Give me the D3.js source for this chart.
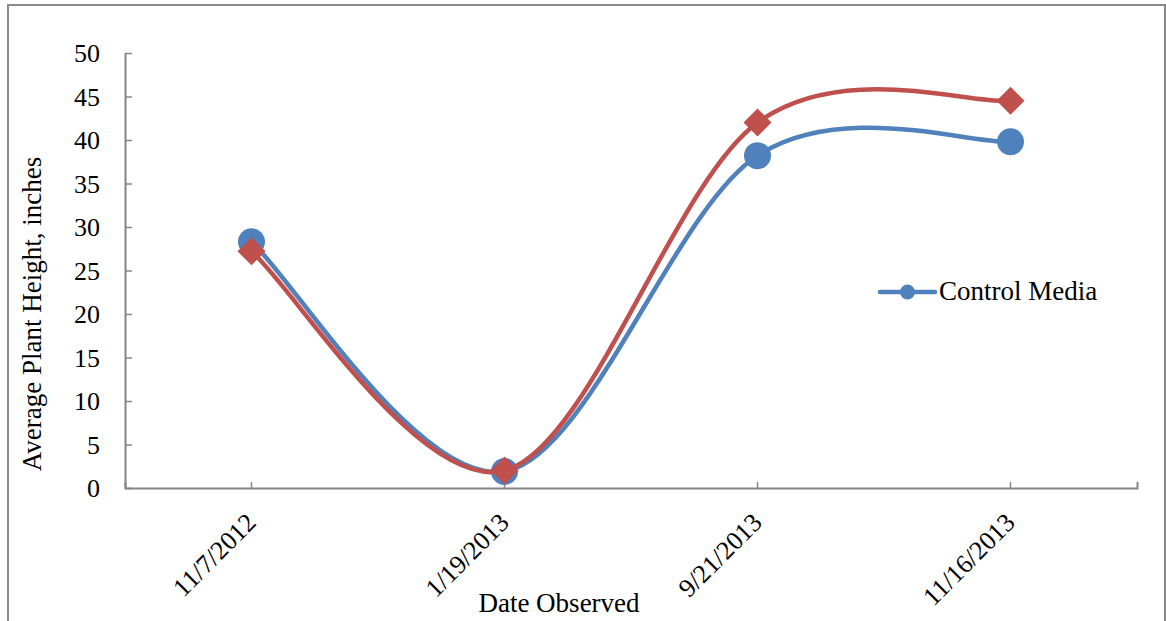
<!DOCTYPE html>
<html>
<head>
<meta charset="utf-8">
<script src="https://cdn.jsdelivr.net/npm/d3@7/dist/d3.min.js"></script>
<style>
  html, body { margin: 0; padding: 0; background: #ffffff; }
  svg { display: block; }
  svg text { font-family: "Liberation Serif", Tinos, "Times New Roman", Times, "DejaVu Serif", serif !important; fill: #000; }
</style>
</head>
<body>
<svg id="chart" width="1166" height="621"></svg>
<script>
// Observation dates (categories)
const dates = ["11/7/2012", "1/19/2013", "9/21/2013", "11/16/2013"];
// Average plant height, inches
const controlMedia = [28.3, 1.9, 38.2, 39.8];
const treatmentMedia = [27.2, 2.0, 42.0, 44.5];
// Value axis ticks
const yTicks = [0, 5, 10, 15, 20, 25, 30, 35, 40, 45, 50];

const svg = d3.select("#chart");
const plot = { left: 125, right: 1137, top: 53, bottom: 488 };
const axisColor = "#868686";
const blue = "#4f81bd", red = "#c0504d";
const serif = "'Liberation Serif', Tinos, 'Times New Roman', Times, 'DejaVu Serif', serif";

// Outer chart frame
svg.append("rect")
  .attr("x", 8).attr("y", 5)
  .attr("width", 1157).attr("height", 700)
  .attr("fill", "none").attr("stroke", "#8a8a8a").attr("stroke-width", 2);

const x = d3.scaleBand().domain(dates).range([plot.left, plot.right]).padding(0);
const y = d3.scaleLinear().domain([0, 50]).range([plot.bottom, plot.top]);
const cx = d => x(d) + x.bandwidth() / 2;

// Smooth line: cubic Bezier through each point, tangents from neighbouring points,
// end points act as their own neighbours.
function SmoothCurve(context) { this._context = context; }
SmoothCurve.prototype = {
  areaStart() { this._line = 0; },
  areaEnd() { this._line = NaN; },
  lineStart() { this._pts = []; },
  point(px, py) { this._pts.push([+px, +py]); },
  lineEnd() {
    const p = this._pts, c = this._context, n = p.length, k = 1 / 6;
    if (!n) return;
    c.moveTo(p[0][0], p[0][1]);
    for (let i = 0; i < n - 1; i++) {
      const p0 = p[Math.max(i - 1, 0)], p1 = p[i], p2 = p[i + 1], p3 = p[Math.min(i + 2, n - 1)];
      c.bezierCurveTo(
        p1[0] + k * (p2[0] - p0[0]), p1[1] + k * (p2[1] - p0[1]),
        p2[0] - k * (p3[0] - p1[0]), p2[1] - k * (p3[1] - p1[1]),
        p2[0], p2[1]);
    }
  }
};
const curveSmooth = ctx => new SmoothCurve(ctx);

// Y axis (ticks pointing into the plot)
const yAxis = svg.append("g")
  .attr("transform", `translate(${plot.left},0)`)
  .call(d3.axisLeft(y).tickValues(yTicks).tickSize(-7).tickSizeOuter(0).tickPadding(25))
  .attr("font-family", serif).attr("font-size", 26);
yAxis.select(".domain").attr("stroke", axisColor).attr("stroke-width", 2);
yAxis.selectAll(".tick line").attr("stroke", axisColor).attr("stroke-width", 1.5);
yAxis.selectAll(".tick text").attr("fill", "#000").attr("dy", "0.34em");

// X axis (ticks pointing up, at category centres and both ends)
const xAxis = svg.append("g")
  .attr("transform", `translate(0,${plot.bottom})`)
  .call(d3.axisBottom(x).tickSize(-6).tickSizeOuter(-6))
  .attr("font-family", serif).attr("font-size", 26);
xAxis.select(".domain").attr("stroke", axisColor).attr("stroke-width", 2);
xAxis.selectAll(".tick line").attr("stroke", axisColor).attr("stroke-width", 1.5);
xAxis.selectAll(".tick text")
  .attr("fill", "#000")
  .attr("x", 0).attr("y", 0).attr("dy", 0)
  .attr("text-anchor", "end")
  .attr("transform", "translate(6,36) rotate(-45)");

// Axis titles
svg.append("text")
  .attr("transform", "translate(41,314) rotate(-90)")
  .attr("text-anchor", "middle").attr("font-size", 27)
  .text("Average Plant Height, inches");
svg.append("text")
  .attr("x", 559).attr("y", 612)
  .attr("text-anchor", "middle").attr("font-size", 27)
  .text("Date Observed");

const line = d3.line().x((d, i) => cx(dates[i])).y(d => y(d)).curve(curveSmooth);

// Control media series
svg.append("path").datum(controlMedia)
  .attr("d", line).attr("fill", "none")
  .attr("stroke", blue).attr("stroke-width", 4.5).attr("stroke-linecap", "round");
svg.append("g").selectAll("circle").data(controlMedia).join("circle")
  .attr("cx", (d, i) => cx(dates[i])).attr("cy", d => y(d))
  .attr("r", 13.5).attr("fill", blue);

// Second series, diamond markers
svg.append("path").datum(treatmentMedia)
  .attr("d", line).attr("fill", "none")
  .attr("stroke", red).attr("stroke-width", 4.5).attr("stroke-linecap", "round");
const diamond = d3.symbol().type(d3.symbolSquare).size(392);
svg.append("g").selectAll("path").data(treatmentMedia).join("path")
  .attr("d", diamond)
  .attr("transform", (d, i) => `translate(${cx(dates[i])},${y(d)}) rotate(45)`)
  .attr("fill", red);

// Legend
const legend = svg.append("g").attr("transform", "translate(880,292)");
legend.append("line").attr("x1", 0).attr("x2", 55).attr("y1", 0).attr("y2", 0)
  .attr("stroke", blue).attr("stroke-width", 4.5).attr("stroke-linecap", "round");
legend.append("circle").attr("cx", 27.5).attr("cy", 0).attr("r", 7.5).attr("fill", blue);
legend.append("text").attr("x", 59).attr("y", 8).attr("font-size", 27).text("Control Media");
</script>
</body>
</html>
